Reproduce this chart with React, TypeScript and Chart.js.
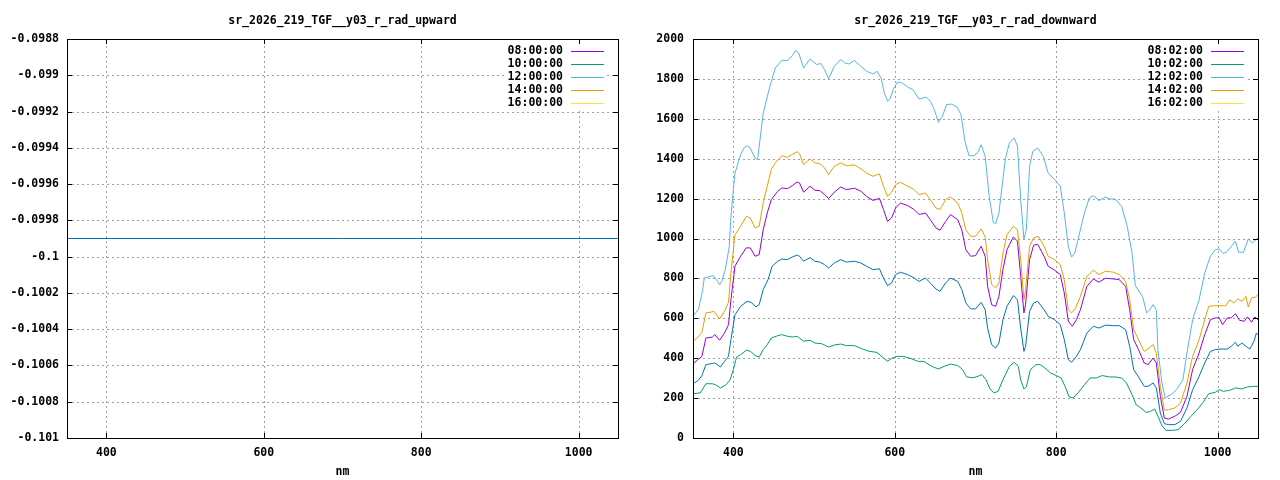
import { useEffect, useRef } from "react";
import { Chart, registerables } from "chart.js";

Chart.register(...registerables);

// ---------- ticks & labels ----------
const X_TICKS = [400, 600, 800, 1000];
const Y_TICKS_UP = [-0.101, -0.1008, -0.1006, -0.1004, -0.1002, -0.1, -0.0998, -0.0996, -0.0994, -0.0992, -0.099, -0.0988];
const Y_TICKS_DOWN = [0, 200, 400, 600, 800, 1000, 1200, 1400, 1600, 1800, 2000];
const LABELS_UP = ["08:00:00", "10:00:00", "12:00:00", "14:00:00", "16:00:00"];
const LABELS_DOWN = ["08:02:00", "10:02:00", "12:02:00", "14:02:00", "16:02:00"];
const TITLE_UP = "sr_2026_219_TGF__y03_r_rad_upward";
const TITLE_DOWN = "sr_2026_219_TGF__y03_r_rad_downward";
const X_TITLE = "nm";

// ---------- upward panel data (flat) ----------
const wlUp = [350, 1050];
const radUp = [-0.0999, -0.0999];

// ---------- downward panel data ----------
const wl08 = [350,356,361,366,374,377,383,389,394,397,402,409,416,421,427,432,437,442,447,455,460,467,473,479,482,487,495,501,507,513,518,525,533,540,550,558,565,573,581,586,591,596,601,607,616,624,630,638,644,651,656,663,669,678,683,688,694,700,707,712,715,720,725,729,734,739,747,752,756,760,762,767,772,777,785,790,798,805,810,815,820,825,830,838,846,853,861,871,878,886,891,896,902,909,914,920,924,929,934,939,947,954,962,969,977,984,991,997,1002,1006,1012,1017,1022,1027,1033,1037,1042,1046,1050];
const rad08 = [371,393,409,501,506,518,490,526,568,693,861,911,953,953,911,919,1044,1128,1195,1237,1253,1250,1265,1283,1278,1232,1262,1242,1240,1220,1200,1232,1258,1245,1252,1237,1211,1191,1201,1145,1086,1103,1153,1178,1165,1145,1120,1128,1094,1053,1041,1086,1120,1094,1044,944,911,914,961,911,760,668,660,710,844,944,1008,986,811,627,668,894,966,971,911,861,841,819,727,585,560,593,643,760,797,781,801,797,794,760,643,493,443,376,368,401,376,209,100,95,109,129,209,343,426,518,593,602,602,568,602,602,623,590,585,607,580,607,593];

const wl10 = [350,359,366,374,378,384,391,396,400,404,409,416,421,427,432,437,442,447,455,460,467,473,479,482,487,495,501,509,518,525,533,540,550,560,568,578,586,591,596,603,611,618,629,636,646,654,661,669,678,684,689,697,703,708,713,718,723,728,734,742,748,753,756,760,763,768,775,780,786,793,800,806,811,816,821,827,835,842,850,857,866,873,881,887,894,899,905,911,916,922,926,931,936,944,951,959,967,974,982,989,997,1002,1007,1015,1022,1030,1037,1045,1050];
const rad10 = [222,226,272,272,267,251,267,292,343,406,418,440,435,413,406,443,468,501,513,518,510,506,510,501,485,490,476,473,456,466,471,463,463,446,435,429,401,384,399,409,409,401,384,384,359,346,359,371,363,343,306,302,309,318,292,246,226,234,292,359,379,359,292,246,256,343,368,368,351,326,313,301,259,206,201,226,267,301,301,313,306,306,301,276,217,167,150,129,132,145,109,62,38,38,42,72,109,139,179,222,229,242,234,239,251,246,256,259,259];

const wl12 = [350,357,362,364,371,375,379,383,386,390,395,397,400,402,409,413,417,420,427,430,433,437,445,452,460,467,473,477,481,487,495,500,503,508,513,518,525,533,538,543,550,558,565,573,578,583,587,591,594,598,603,608,616,623,630,634,639,644,649,654,659,664,670,677,682,687,692,698,703,707,712,717,722,725,729,737,742,748,752,756,760,763,767,771,777,784,790,798,805,810,815,819,823,829,835,841,846,853,861,866,873,881,888,894,898,904,907,912,916,920,924,926,931,935,942,949,957,962,969,977,984,991,997,1002,1007,1012,1017,1022,1026,1032,1038,1043,1050];
const rad12 = [610,647,743,802,810,814,794,768,790,844,961,1111,1245,1328,1420,1453,1465,1459,1403,1395,1495,1629,1759,1855,1893,1892,1917,1942,1930,1855,1900,1883,1872,1877,1847,1800,1863,1897,1880,1875,1892,1863,1838,1825,1838,1805,1730,1688,1699,1746,1783,1783,1760,1743,1699,1703,1709,1688,1646,1582,1612,1671,1674,1659,1621,1487,1415,1415,1432,1470,1412,1211,1081,1074,1128,1399,1479,1504,1462,1195,998,1044,1362,1437,1454,1412,1328,1295,1262,1128,961,907,927,1028,1128,1203,1215,1190,1208,1198,1198,1161,1061,927,764,727,710,627,643,668,643,443,276,201,217,242,292,426,593,693,827,911,944,948,924,936,961,986,931,931,998,978,1003];

const wl14 = [350,356,361,366,371,376,383,389,394,397,402,409,416,421,427,432,437,442,447,452,460,467,472,479,482,487,495,501,507,513,518,525,533,540,550,558,565,573,581,586,591,596,601,607,616,624,630,638,644,651,656,663,669,678,683,688,694,700,707,712,715,720,725,729,734,739,747,752,756,760,762,767,772,778,785,790,798,805,810,815,819,824,830,838,846,853,861,871,878,886,891,896,902,909,915,920,924,929,934,939,947,954,962,969,977,984,989,995,1002,1010,1015,1020,1025,1030,1035,1038,1042,1047,1050];
const rad14 = [485,506,530,627,630,635,597,635,680,827,1019,1061,1111,1103,1053,1061,1178,1262,1345,1379,1415,1407,1420,1435,1425,1370,1399,1379,1375,1354,1320,1362,1379,1365,1369,1349,1328,1312,1324,1262,1211,1232,1270,1282,1262,1245,1220,1228,1195,1153,1145,1195,1208,1178,1128,1044,1011,1011,1048,1008,896,770,753,777,927,1019,1061,1044,896,693,743,961,1003,1011,961,911,894,869,794,643,627,652,710,810,841,819,836,831,819,785,693,543,493,434,451,468,426,259,139,142,150,175,276,409,493,593,660,663,663,663,693,677,697,685,710,657,702,707,719];

const wl16: number[] = [];
const rad16: number[] = [];

const wlExtra = [350,356,361,366,374,377,384,389,394,397,402,409,417,422,428,432,437,443,448,455,460,467,473,479,482,487,495,501,507,513,518,525,533,540,550,558,565,573,581,586,591,596,601,607,616,624,630,638,644,651,656,663,669,678,683,688,694,700,707,712,715,720,725,729,734,739,747,752,756,760,762,767,772,777,785,790,798,805,810,815,819,825,830,838,846,853,861,871,878,886,891,896,902,909,914,920,924,929,934,939,947,954,962,969,977,984,991,997,1004,1012,1017,1022,1025,1030,1035,1040,1045,1048,1050];
const radExtra = [272,287,312,368,373,376,356,384,409,493,618,660,685,680,657,668,744,794,861,886,897,894,907,917,911,886,904,886,882,869,852,877,894,882,886,877,861,844,848,802,764,777,819,831,819,802,785,802,777,747,735,777,802,785,744,677,647,647,680,643,551,468,451,476,593,660,714,693,551,434,459,635,677,685,643,610,593,568,493,393,379,409,443,526,560,551,566,563,563,543,460,343,306,259,259,276,251,125,72,67,67,84,150,242,309,376,434,443,446,446,460,480,460,476,460,446,485,526,518];

const COLORS = ["#9400d3", "#009e73", "#56b4e9", "#e69f00", "#f0e442", "#0072b2"];

const FAMILY = '"DejaVu Sans Mono", monospace';
const FONT_SIZE = 11.5;
const CSS_FONT = `bold ${FONT_SIZE}px ${FAMILY}`;

type Series = { wl: number[]; vals: number[] };

function gnuFrame(title: string, legend: string[]) {
  return {
    id: "gnuFrame",
    beforeDatasetsDraw(chart: any) {
      const { ctx, chartArea: a, scales } = chart;
      const x = scales.x, y = scales.y;
      ctx.save();
      ctx.strokeStyle = "#a0a0a0";
      ctx.lineWidth = 1;
      ctx.setLineDash([2, 3]);
      ctx.beginPath();
      for (const t of x.ticks) {
        const px = Math.round(x.getPixelForValue(t.value)) + 0.5;
        if (px > a.left + 1 && px < a.right - 1) {
          ctx.moveTo(px, a.bottom);
          ctx.lineTo(px, a.top);
        }
      }
      for (const t of y.ticks) {
        const py = Math.round(y.getPixelForValue(t.value)) + 0.5;
        if (py > a.top + 1 && py < a.bottom - 1) {
          ctx.moveTo(a.left, py);
          ctx.lineTo(a.right, py);
        }
      }
      ctx.stroke();
      ctx.restore();
    },
    afterDatasetsDraw(chart: any) {
      const { ctx, chartArea: a, scales } = chart;
      const x = scales.x, y = scales.y;
      const L = Math.round(a.left), R = Math.round(a.right), T = Math.round(a.top), B = Math.round(a.bottom);
      ctx.save();
      // legend (opaque box)
      ctx.fillStyle = "#ffffff";
      ctx.fillRect(R - 113, T + 5, 102, 64);
      ctx.font = CSS_FONT;
      ctx.textAlign = "right";
      ctx.textBaseline = "middle";
      legend.forEach((lab, i) => {
        const cy = T + 11.5 + 13 * i;
        ctx.fillStyle = "#000";
        ctx.fillText(lab, R - 55, cy + 0.5);
        ctx.strokeStyle = COLORS[i];
        ctx.lineWidth = 1;
        ctx.beginPath();
        ctx.moveTo(R - 47, Math.round(cy) + 0.5);
        ctx.lineTo(R - 14, Math.round(cy) + 0.5);
        ctx.stroke();
      });
      // border
      ctx.strokeStyle = "#000";
      ctx.lineWidth = 1;
      ctx.strokeRect(L + 0.5, T + 0.5, R - L, B - T);
      // inward tick marks on all four sides
      ctx.beginPath();
      for (const t of x.ticks) {
        const px = Math.round(x.getPixelForValue(t.value)) + 0.5;
        ctx.moveTo(px, B);
        ctx.lineTo(px, B - 5);
        ctx.moveTo(px, T);
        ctx.lineTo(px, T + 5);
      }
      for (const t of y.ticks) {
        const py = Math.round(y.getPixelForValue(t.value)) + 0.5;
        ctx.moveTo(L, py);
        ctx.lineTo(L + 5, py);
        ctx.moveTo(R, py);
        ctx.lineTo(R - 5, py);
      }
      ctx.stroke();
      // titles
      ctx.fillStyle = "#000";
      ctx.textAlign = "center";
      ctx.textBaseline = "middle";
      ctx.fillText(title, (L + R) / 2, 21);
      ctx.fillText(X_TITLE, (L + R) / 2, 472);
      ctx.restore();
    },
  };
}

function buildChart(
  canvas: HTMLCanvasElement,
  title: string,
  legend: string[],
  series: Series[],
  yTicks: number[],
  yAxisWidth: number,
  yPad: number
) {
  const datasets = series.map((s, i) => ({
    label: i < legend.length ? legend[i] : "",
    data: s.wl.map((w, j) => ({ x: w, y: s.vals[j] })),
    showLine: true,
    borderColor: COLORS[i],
    backgroundColor: COLORS[i],
    borderWidth: 1,
    pointRadius: 0,
    pointHoverRadius: 0,
    tension: 0,
    fill: false,
    order: 10 - i,
  }));
  const tickFont = { family: FAMILY, size: FONT_SIZE, weight: "bold" as const };
  return new Chart(canvas, {
    type: "scatter",
    data: { datasets },
    options: {
      animation: false,
      responsive: false,
      devicePixelRatio: 1,
      layout: { padding: { top: 39, right: 22, bottom: 0, left: 0 } },
      plugins: {
        legend: { display: false },
        tooltip: { enabled: false },
        title: { display: false },
      },
      events: [],
      scales: {
        x: {
          type: "linear",
          min: 350,
          max: 1050,
          afterBuildTicks: (s: any) => {
            s.ticks = X_TICKS.map((v) => ({ value: v }));
          },
          afterFit: (s: any) => {
            s.height = 42;
          },
          grid: { display: false, drawTicks: false },
          border: { display: false },
          ticks: {
            color: "#000",
            font: tickFont,
            padding: 8,
            maxRotation: 0,
            autoSkip: false,
            callback: (v: any) => String(v),
          },
        },
        y: {
          type: "linear",
          min: yTicks[0],
          max: yTicks[yTicks.length - 1],
          afterBuildTicks: (s: any) => {
            s.ticks = yTicks.map((v) => ({ value: v }));
          },
          afterFit: (s: any) => {
            s.width = yAxisWidth;
          },
          grid: { display: false, drawTicks: false },
          border: { display: false },
          ticks: {
            color: "#000",
            font: tickFont,
            padding: yPad,
            autoSkip: false,
            callback: (v: any) => String(v),
          },
        },
      },
    },
    plugins: [gnuFrame(title, legend)],
  } as any);
}

export default function App() {
  const leftRef = useRef<HTMLCanvasElement>(null);
  const rightRef = useRef<HTMLCanvasElement>(null);

  useEffect(() => {
    document.body.style.margin = "0";
    const upSeries: Series[] = [0, 1, 2, 3, 4, 5].map(() => ({ wl: wlUp, vals: radUp }));
    const downSeries: Series[] = [
      { wl: wl08, vals: rad08 },
      { wl: wl10, vals: rad10 },
      { wl: wl12, vals: rad12 },
      { wl: wl14, vals: rad14 },
      { wl: wl16, vals: rad16 },
      { wl: wlExtra, vals: radExtra },
    ];
    const c1 = buildChart(leftRef.current!, TITLE_UP, LABELS_UP, upSeries, Y_TICKS_UP, 67, 8);
    const c2 = buildChart(rightRef.current!, TITLE_DOWN, LABELS_DOWN, downSeries, Y_TICKS_DOWN, 53, 9);
    return () => {
      c1.destroy();
      c2.destroy();
    };
  }, []);

  return (
    <div style={{ position: "fixed", left: 0, top: 0, width: 1280, height: 480, background: "#fff", display: "flex" }}>
      <canvas ref={leftRef} width={640} height={480} style={{ width: 640, height: 480, display: "block" }} />
      <canvas ref={rightRef} width={640} height={480} style={{ width: 640, height: 480, display: "block" }} />
    </div>
  );
}
